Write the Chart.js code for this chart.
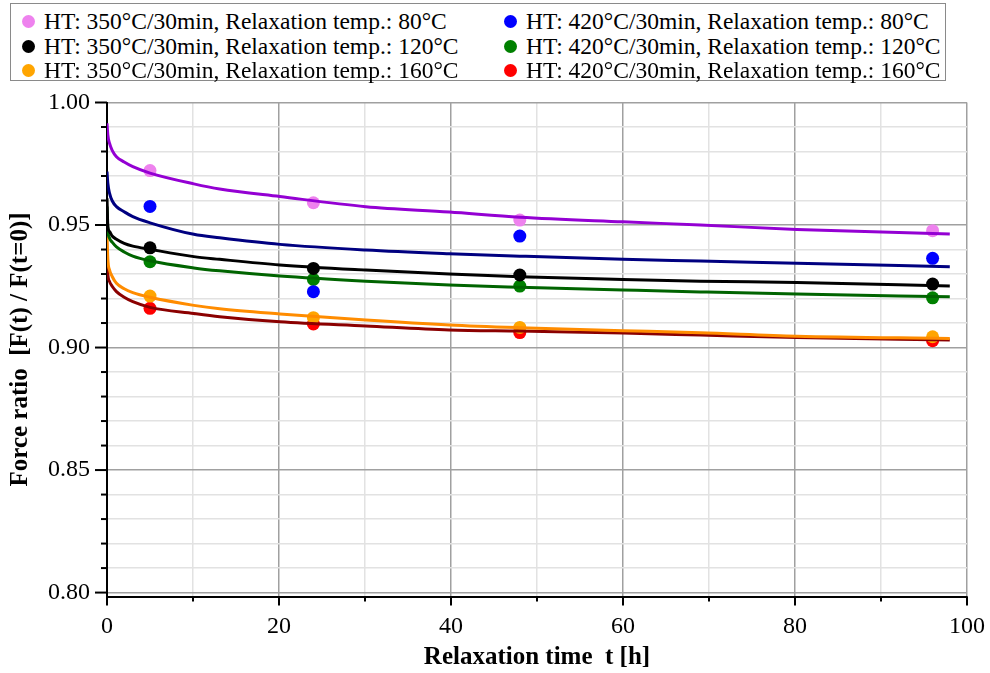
<!DOCTYPE html>
<html><head><meta charset="utf-8">
<script src="https://cdn.jsdelivr.net/npm/chart.js@4.4.0/dist/chart.umd.min.js"></script>
<style>
html,body{margin:0;padding:0;background:#fff;}
#wrap{position:relative;width:990px;height:673px;}
#legend{position:absolute;left:10px;top:3px;width:936px;height:78px;border:1px solid #8a8a8a;box-sizing:border-box;background:#fff;font-family:"Liberation Serif","Times New Roman",serif;font-size:23.5px;color:#000;}
.item{position:absolute;height:24px;line-height:24px;white-space:nowrap;}
.dot{display:inline-block;width:13px;height:13px;border-radius:50%;vertical-align:middle;margin-right:9px;position:relative;top:-2px;}
</style></head>
<body><div id="wrap"><canvas id="c" width="990" height="673"></canvas><div id="legend"></div></div>
<script>
// ---- measured points ----
const measTime = [5, 24, 48, 96];
const ht350_80  = [0.9722, 0.9591, 0.9520, 0.9477];
const ht350_120 = [0.9407, 0.9323, 0.9296, 0.9259];
const ht350_160 = [0.9210, 0.9122, 0.9082, 0.9044];
const ht420_80  = [0.9576, 0.9228, 0.9455, 0.9364];
const ht420_120 = [0.9350, 0.9278, 0.9251, 0.9203];
const ht420_160 = [0.9160, 0.9096, 0.9061, 0.9028];

// ---- fitted curves ----
const curveTime  = [0, 0.1, 0.3, 0.6, 1.1, 2, 3, 5, 10.1, 13.1, 20.1, 30.1, 39.8, 48, 60, 69, 80.2, 98];
const fit350_80  = [0.9915, 0.9867, 0.9833, 0.9805, 0.9779, 0.9757, 0.9738, 0.9712, 0.9668, 0.9647, 0.9616, 0.9575, 0.9553, 0.9532, 0.9513, 0.9500, 0.9482, 0.9463];
const fit420_80  = [0.9718, 0.9670, 0.9629, 0.9599, 0.9575, 0.9554, 0.9534, 0.9509, 0.9462, 0.9448, 0.9421, 0.9398, 0.9383, 0.9373, 0.9360, 0.9353, 0.9344, 0.9330];
const fit350_120 = [0.9609, 0.9493, 0.9473, 0.9455, 0.9442, 0.9425, 0.9414, 0.9401, 0.9371, 0.9360, 0.9337, 0.9316, 0.9300, 0.9289, 0.9278, 0.9271, 0.9265, 0.9251];
const fit420_120 = [0.9575, 0.9480, 0.9446, 0.9430, 0.9411, 0.9390, 0.9373, 0.9354, 0.9325, 0.9313, 0.9292, 0.9271, 0.9255, 0.9246, 0.9235, 0.9227, 0.9218, 0.9207];
const fit350_160 = [0.9459, 0.9360, 0.9316, 0.9290, 0.9262, 0.9240, 0.9224, 0.9205, 0.9172, 0.9158, 0.9137, 0.9112, 0.9092, 0.9081, 0.9069, 0.9060, 0.9046, 0.9037];
const fit420_160 = [0.9384, 0.9300, 0.9269, 0.9250, 0.9228, 0.9205, 0.9187, 0.9164, 0.9139, 0.9126, 0.9105, 0.9088, 0.9072, 0.9067, 0.9059, 0.9051, 0.9041, 0.9031];

// ---- labels ----
const seriesLabels = [
  'HT: 350°C/30min, Relaxation temp.: 80°C',
  'HT: 420°C/30min, Relaxation temp.: 80°C',
  'HT: 350°C/30min, Relaxation temp.: 120°C',
  'HT: 420°C/30min, Relaxation temp.: 120°C',
  'HT: 350°C/30min, Relaxation temp.: 160°C',
  'HT: 420°C/30min, Relaxation temp.: 160°C'
];
const xTitle = 'Relaxation time  t [h]';
const yTitle = 'Force ratio  [F(t) / F(t=0)]';
const xMajorStep = 20, xMinorStep = 10;

const pointColors = ['#ee82ee', '#0000ff', '#000000', '#008000', '#ffa500', '#ff0000'];
const lineColors  = ['#9400d3', '#000080', '#000000', '#006400', '#ff8c00', '#8b0000'];
const measSets = [ht350_80, ht420_80, ht350_120, ht420_120, ht350_160, ht420_160];
const fitSets  = [fit350_80, fit420_80, fit350_120, fit420_120, fit350_160, fit420_160];

const toXY = (xs, ys) => xs.map((x, i) => ({x: x, y: ys[i]}));

const datasets = [];
fitSets.forEach((ys, i) => datasets.push({
  label: seriesLabels[i] + ' (fit)', data: toXY(curveTime, ys), showLine: true,
  borderColor: lineColors[i], borderWidth: 3, pointRadius: 0, fill: false,
  cubicInterpolationMode: 'monotone', order: 1
}));
measSets.forEach((ys, i) => datasets.push({
  label: seriesLabels[i], data: toXY(measTime, ys), showLine: false,
  backgroundColor: pointColors[i], borderWidth: 0, pointRadius: 6.5, order: 2
}));

const isMajorY = v => Math.abs(Math.round(v * 100) % 5) === 0;
const isMajorX = v => Math.round(v) % xMajorStep === 0;

const tickMarks = {
  id: 'tickMarks',
  afterDraw(chart) {
    const {ctx, chartArea} = chart;
    const x = chart.scales.x, y = chart.scales.y;
    ctx.save();
    ctx.strokeStyle = '#000';
    ctx.lineWidth = 2;
    y.ticks.forEach(t => {
      const py = y.getPixelForValue(t.value);
      const len = isMajorY(t.value) ? 12 : 6;
      ctx.beginPath(); ctx.moveTo(chartArea.left - len, py); ctx.lineTo(chartArea.left, py); ctx.stroke();
    });
    x.ticks.forEach(t => {
      const px = x.getPixelForValue(t.value);
      const len = isMajorX(t.value) ? 9 : 5;
      ctx.beginPath(); ctx.moveTo(px, chartArea.bottom); ctx.lineTo(px, chartArea.bottom + len); ctx.stroke();
    });
    ctx.restore();
  }
};

const serif = '"Liberation Serif", "Times New Roman", serif';

new Chart(document.getElementById('c'), {
  type: 'scatter',
  data: { datasets },
  plugins: [tickMarks],
  options: {
    responsive: false, animation: false, devicePixelRatio: 1,
    layout: { padding: { left: 0, right: 23, top: 102.5, bottom: 0 } },
    plugins: { legend: { display: false }, tooltip: { enabled: false } },
    scales: {
      x: {
        type: 'linear', min: 0, max: 100,
        afterFit: s => { s.height = 76.5; s.paddingLeft = 0; s.paddingRight = 0; },
        ticks: { stepSize: xMinorStep, autoSkip: false, maxRotation: 0, padding: 16, color: '#000',
          font: { family: serif, size: 24 },
          callback: v => isMajorX(v) ? String(v) : '' },
        grid: { drawTicks: false, lineWidth: 1.5,
          color: c => (c.tick && isMajorX(c.tick.value)) ? '#a0a0a0' : '#e2e2e2' },
        border: { color: '#000', width: 2 },
        title: { display: true, text: xTitle, color: '#000', padding: { top: 0, bottom: 0 },
          font: { family: serif, size: 25, weight: 'bold' } }
      },
      y: {
        type: 'linear', min: 0.7984, max: 1.0,
        afterFit: s => { s.width = 107; s.paddingTop = 0; s.paddingBottom = 0; },
        afterBuildTicks: s => {
          const t = [];
          for (let k = 80; k <= 100; k++) t.push({ value: k / 100 });
          s.ticks = t;
        },
        ticks: { autoSkip: false, padding: 17, color: '#000',
          font: { family: serif, size: 24 },
          callback: v => isMajorY(v) ? Number(v).toFixed(2) : '' },
        grid: { drawTicks: false, lineWidth: 1.5,
          color: c => (c.tick && isMajorY(c.tick.value)) ? '#a0a0a0' : '#e2e2e2' },
        border: { color: '#000', width: 2 },
        title: { display: true, text: yTitle, color: '#000', padding: { top: 6, bottom: 0 },
          font: { family: serif, size: 25, weight: 'bold' } }
      }
    }
  }
});

// ---- HTML legend (2 columns x 3 rows) ----
const legend = document.getElementById('legend');
const colLeft = [11, 493];
const rowTop = [5, 30, 54];
seriesLabels.forEach((lab, i) => {
  const d = document.createElement('div');
  d.className = 'item';
  d.style.left = colLeft[i % 2] + 'px';
  d.style.top = rowTop[Math.floor(i / 2)] + 'px';
  const s = document.createElement('span');
  s.className = 'dot';
  s.style.background = pointColors[i];
  d.appendChild(s);
  d.appendChild(document.createTextNode(lab));
  legend.appendChild(d);
});
</script>
</body></html>
